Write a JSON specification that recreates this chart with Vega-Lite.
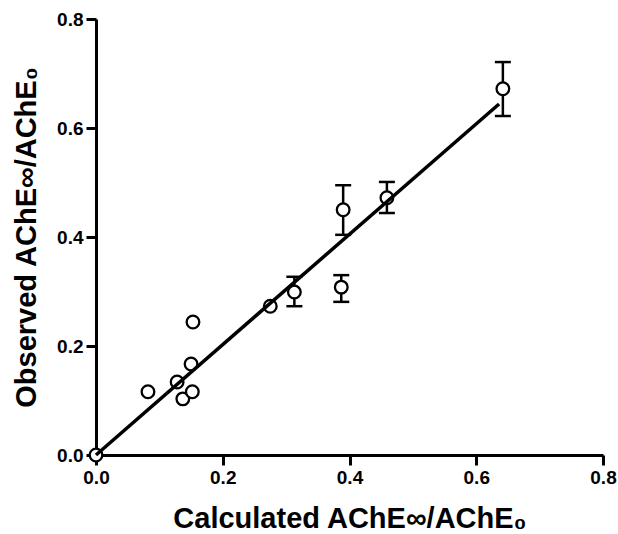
{
  "$schema": "https://vega.github.io/schema/vega-lite/v6.json",
  "width": 507,
  "height": 436,
  "autosize": {"type": "none"},
  "padding": {"left": 96, "top": 19, "right": 15, "bottom": 79},
  "background": "white",
  "config": {
    "view": {"stroke": null},
    "axis": {
      "grid": false,
      "domainColor": "#000000",
      "domainWidth": 3,
      "labelFont": "Liberation Sans",
      "labelFontWeight": "bold",
      "labelFontSize": 19,
      "labelColor": "#000000",
      "labelFlush": false,
      "labelOverlap": false,
      "titleFont": "Liberation Sans",
      "titleFontWeight": "bold",
      "titleFontSize": 29,
      "titleColor": "#000000",
      "ticks": true,
      "tickColor": "#000000",
      "tickOpacity": 1,
      "tickWidth": 3,
      "tickSize": 10
    }
  },
  "datasets": {
    "pts": [
      {"calc": 0.0, "obs": 0.0},
      {"calc": 0.082, "obs": 0.116},
      {"calc": 0.128, "obs": 0.134},
      {"calc": 0.137, "obs": 0.103},
      {"calc": 0.152, "obs": 0.116},
      {"calc": 0.150, "obs": 0.167},
      {"calc": 0.153, "obs": 0.244},
      {"calc": 0.275, "obs": 0.273},
      {"calc": 0.313, "obs": 0.299, "lo": 0.273, "hi": 0.327},
      {"calc": 0.387, "obs": 0.308, "lo": 0.281, "hi": 0.330},
      {"calc": 0.390, "obs": 0.450, "lo": 0.404, "hi": 0.495},
      {"calc": 0.459, "obs": 0.472, "lo": 0.444, "hi": 0.501},
      {"calc": 0.642, "obs": 0.672, "lo": 0.622, "hi": 0.721}
    ],
    "fit": [
      {"calc": 0.0, "obs": 0.0},
      {"calc": 0.636, "obs": 0.644}
    ]
  },
  "layer": [
    {
      "data": {"name": "pts"},
      "mark": {"type": "point", "shape": "circle", "opacity": 0},
      "encoding": {
        "x": {"field": "calc", "type": "quantitative", "scale": {"domain": [0, 0.8], "nice": false},
          "axis": {"values": [0, 0.2, 0.4, 0.6, 0.8], "format": ".1f", "labelPadding": 3, "title": "Calculated AChE∞/AChE₀", "titleBaseline": "alphabetic", "titleY": 72}},
        "y": {"field": "obs", "type": "quantitative", "scale": {"domain": [0, 0.8], "nice": false},
          "axis": {"values": [0, 0.2, 0.4, 0.6, 0.8], "format": ".1f", "labelPadding": 3, "title": "Observed AChE∞/AChE₀", "titleBaseline": "alphabetic", "titleX": -61}}
      }
    },
    {
      "data": {"name": "pts"},
      "transform": [{"filter": "isValid(datum.lo)"}],
      "mark": {"type": "rule", "color": "black", "strokeWidth": 2.5},
      "encoding": {
        "x": {"field": "calc", "type": "quantitative"},
        "y": {"field": "lo", "type": "quantitative"},
        "y2": {"field": "hi"}
      }
    },
    {
      "data": {"name": "pts"},
      "transform": [{"filter": "isValid(datum.lo)"}],
      "mark": {"type": "point", "shape": "stroke", "filled": false, "stroke": "black", "strokeWidth": 2.5, "size": 256, "opacity": 1},
      "encoding": {
        "x": {"field": "calc", "type": "quantitative"},
        "y": {"field": "lo", "type": "quantitative"}
      }
    },
    {
      "data": {"name": "pts"},
      "transform": [{"filter": "isValid(datum.lo)"}],
      "mark": {"type": "point", "shape": "stroke", "filled": false, "stroke": "black", "strokeWidth": 2.5, "size": 256, "opacity": 1},
      "encoding": {
        "x": {"field": "calc", "type": "quantitative"},
        "y": {"field": "hi", "type": "quantitative"}
      }
    },
    {
      "data": {"name": "pts"},
      "mark": {"type": "point", "shape": "circle", "filled": false, "fill": "white", "fillOpacity": 1, "stroke": "black", "strokeWidth": 2.3, "size": 160, "opacity": 1},
      "encoding": {
        "x": {"field": "calc", "type": "quantitative"},
        "y": {"field": "obs", "type": "quantitative"}
      }
    },
    {
      "data": {"name": "fit"},
      "mark": {"type": "line", "color": "black", "strokeWidth": 3.5},
      "encoding": {
        "x": {"field": "calc", "type": "quantitative"},
        "y": {"field": "obs", "type": "quantitative"}
      }
    }
  ]
}
